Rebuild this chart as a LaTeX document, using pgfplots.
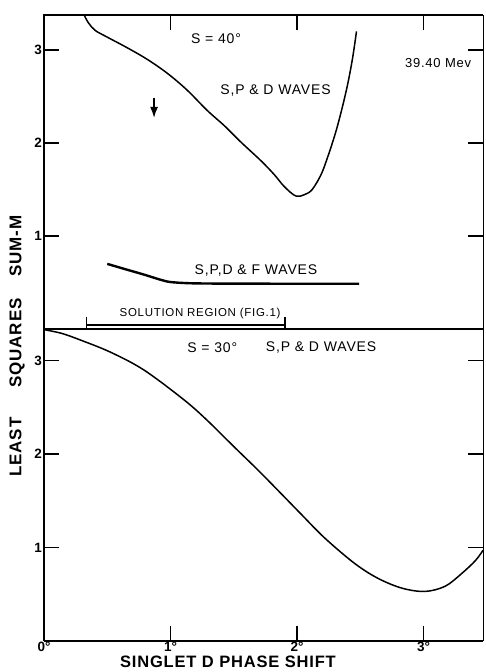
\documentclass[border=0pt]{standalone}
\usepackage{fontspec}
\setmainfont{Liberation Sans}
\newfontfamily\lbl[LetterSpace=6]{Liberation Sans}
\newfontfamily\lblb[LetterSpace=5]{Liberation Sans Bold}
\newfontfamily\tickf{Liberation Sans Bold}
\usepackage{pgfplots}
\pgfplotsset{compat=1.18}
\usetikzlibrary{arrows.meta}
\begin{document}
\begin{tikzpicture}
\pgfplotsset{
 panel/.style={
  scale only axis, width=439pt,
  xmin=0, xmax=3.47, ymin=0,
  axis line style={draw=none},
  tick align=inside, major tick length=15pt,
  xtick style={line width=1.3pt, black},
  ytick style={line width=1.3pt, black},
  ytick={1,2,3}, yticklabels={1,2,3},
  /pgf/number format/assume math mode=true,
  ticklabel style={font=\tickf\fontsize{13.5}{16}\selectfont},
  yticklabel style={inner sep=2pt},
  xticklabel style={inner sep=1pt},
  clip=false,
 }
}
% ---------- lower panel: S=30 deg ----------
\begin{axis}[panel, name=lower, at={(0,0)}, anchor=south west, height=312pt, ymax=3.337,
  xtick={0,1,2,3}, xtick pos=left, xticklabels={0°,1°,2°,3°}]
\addplot[black, line width=1.5pt, smooth, tension=0.55] coordinates {
 (0,3.33) (0.14,3.29) (0.286,3.22) (0.524,3.09) (0.788,2.90) (1.106,2.58)
 (1.29,2.36) (1.50,2.08) (1.69,1.83) (1.85,1.61) (2.03,1.36) (2.22,1.10)
 (2.455,0.83) (2.64,0.67) (2.83,0.565) (3.01,0.53) (3.17,0.585) (3.30,0.72)
 (3.41,0.86) (3.47,0.97)};
\draw[line width=1.6pt] (rel axis cs:0,0) -- (rel axis cs:0,1);
\draw[line width=1.6pt] (rel axis cs:0,0) -- (rel axis cs:1,0);
\draw[line width=0.6pt] (rel axis cs:1,0) -- (rel axis cs:1,1);
\draw[line width=1.2pt] (rel axis cs:0,1) -- (rel axis cs:1,1);
\node[font=\lbl\fontsize{14}{16}\selectfont] at (axis cs:1.33,3.14) {S = 30°};
\node[font=\lbl\fontsize{14}{16}\selectfont] at (axis cs:2.19,3.14) {S,P \& D WAVES};
\node[font=\lblb\fontsize{16.5}{19}\selectfont] at ([yshift=-21pt]rel axis cs:0.419,0) {SINGLET D PHASE SHIFT};
\node[font=\lblb\fontsize{17}{19}\selectfont, rotate=90] at ([xshift=-27pt,yshift=-17pt]rel axis cs:0,1) {LEAST\hspace{30pt}SQUARES\hspace{22pt}SUM-M};
\end{axis}
% ---------- upper panel: S=40 deg ----------
\begin{axis}[panel, name=upper, at={(lower.north west)}, anchor=south west, height=314pt, ymax=3.376,
  xtick={1,2,3}, xtick pos=right, xticklabels={}]
\addplot[black, line width=1.5pt, smooth, tension=0.55] coordinates {
 (0.317,3.376) (0.352,3.29) (0.405,3.21) (0.497,3.14) (0.656,3.025) (0.815,2.90)
 (0.974,2.75) (1.13,2.57) (1.29,2.35) (1.43,2.18) (1.556,2.01) (1.714,1.81)
 (1.82,1.66) (1.90,1.53) (1.99,1.43) (2.06,1.445) (2.12,1.50) (2.19,1.66)
 (2.24,1.84) (2.30,2.09) (2.35,2.34) (2.40,2.63) (2.44,2.92) (2.47,3.20)};
\addplot[black, line width=2.4pt, smooth, tension=0.5] coordinates {
 (0.50,0.70) (0.65,0.64) (0.79,0.585) (0.92,0.53) (1.0,0.505) (1.15,0.492)
 (1.4,0.488) (1.8,0.487) (2.2,0.487) (2.49,0.487)};
\addplot[black, line width=1.2pt] coordinates {(0.333,0.043) (1.905,0.043)};
\addplot[black, line width=1.2pt] coordinates {(0.333,0.13) (0.333,0)};
\addplot[black, line width=1.2pt] coordinates {(1.905,0.13) (1.905,0)};
\addplot[black, line width=1.3pt, -{Latex[length=11pt,width=8pt]}] coordinates {(0.87,2.48) (0.87,2.27)};
\draw[line width=1.6pt] (rel axis cs:0,0) -- (rel axis cs:0,1) -- (rel axis cs:1,1);
\draw[line width=0.6pt] (rel axis cs:1,0) -- (rel axis cs:1,1);
\node[font=\lbl\fontsize{14}{16}\selectfont] at (axis cs:1.36,3.12) {S = 40°};
\node[font=\lbl\fontsize{14}{16}\selectfont] at (axis cs:1.83,2.56) {S,P \& D WAVES};
\node[font=\lbl\fontsize{13}{15}\selectfont] at (axis cs:3.115,2.86) {39.40 Mev};
\node[font=\lbl\fontsize{14}{16}\selectfont] at (axis cs:1.675,0.63) {S,P,D \& F WAVES};
\node[font=\lbl\fontsize{11.5}{13}\selectfont] at (axis cs:1.234,0.17) {SOLUTION REGION (FIG.1)};
\end{axis}
\pgfresetboundingbox
\useasboundingbox ([xshift=-44pt,yshift=-31pt]lower.south west) rectangle ([xshift=2pt,yshift=15pt]upper.north east);
\end{tikzpicture}
\end{document}
